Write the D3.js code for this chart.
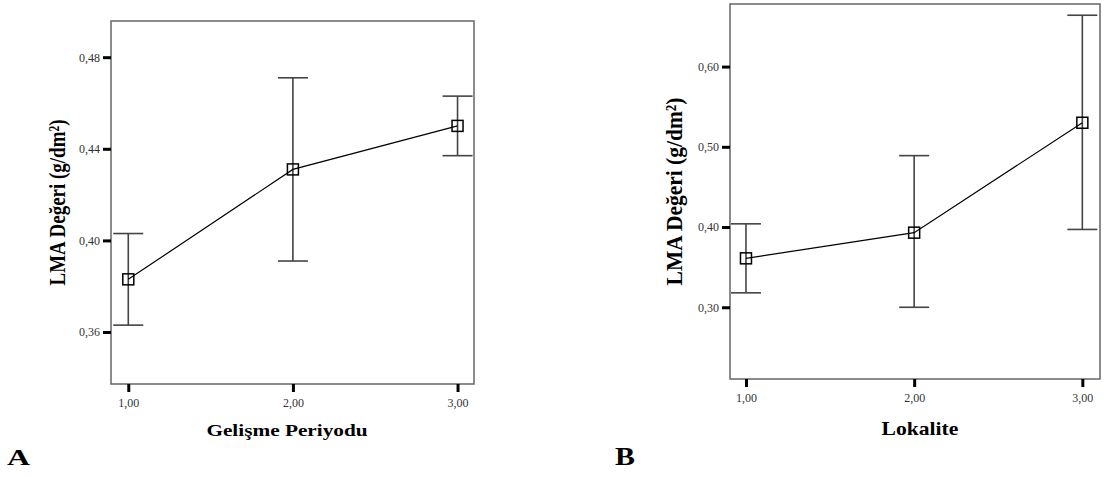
<!DOCTYPE html>
<html>
<head>
<meta charset="utf-8">
<script src="https://cdn.jsdelivr.net/npm/d3@7"></script>
<style>
  body { margin: 0; background: #fff; }
  svg text { font-family: "Liberation Serif", "DejaVu Serif", serif !important; }
</style>
</head>
<body>
<svg id="chart" width="1110" height="477"></svg>
<script>
// ==========================
// DATA
// ==========================
const groups = [1, 2, 3];
const xTicks = [1, 2, 3];

// panel A: Gelişme Periyodu
const meanA  = [0.383, 0.431, 0.450];
const lowerA = [0.363, 0.391, 0.437];
const upperA = [0.403, 0.471, 0.463];
const yTicksA = [0.36, 0.40, 0.44, 0.48];

// panel B: Lokalite
const meanB  = [0.361, 0.393, 0.530];
const lowerB = [0.318, 0.300, 0.397];
const upperB = [0.404, 0.489, 0.664];
const yTicksB = [0.30, 0.40, 0.50, 0.60];

const svg = d3.select("#chart");
const fmt = v => d3.format(".2f")(v).replace(".", ",");

function drawPanel(p) {
  const x = d3.scaleLinear().domain(p.xDomain).range([p.left, p.right]);
  const y = d3.scaleLinear().domain(p.yDomain).range([p.bottom, p.top]);
  const g = svg.append("g");

  // frame
  g.append("rect")
    .attr("x", p.left).attr("y", p.top)
    .attr("width", p.right - p.left).attr("height", p.bottom - p.top)
    .attr("fill", "none").attr("stroke", "#666").attr("stroke-width", 1.5);

  // y axis
  const yAxis = g.append("g")
    .attr("transform", `translate(${p.left},0)`)
    .call(d3.axisLeft(y).tickValues(p.yTicks).tickFormat(fmt).tickSize(8).tickPadding(3));
  yAxis.select(".domain").remove();
  yAxis.selectAll("line").attr("stroke", "#000").attr("stroke-width", 3);
  yAxis.selectAll("text").attr("font-size", 12).attr("fill", "#333");

  // x axis
  const xAxis = g.append("g")
    .attr("transform", `translate(0,${p.bottom})`)
    .call(d3.axisBottom(x).tickValues(xTicks).tickFormat(fmt).tickSize(8).tickPadding(6));
  xAxis.select(".domain").remove();
  xAxis.selectAll("line").attr("stroke", "#000").attr("stroke-width", 3);
  xAxis.selectAll("text").attr("font-size", 12).attr("fill", "#333");

  // error bars
  const capW = 15;
  const eb = g.append("g").attr("stroke", "#444").attr("stroke-width", 1.6);
  groups.forEach((d, i) => {
    eb.append("line")
      .attr("x1", x(d)).attr("x2", x(d))
      .attr("y1", y(p.upper[i])).attr("y2", y(p.lower[i]));
    [p.upper[i], p.lower[i]].forEach(v => {
      eb.append("line")
        .attr("x1", Math.max(p.left, x(d) - capW)).attr("x2", Math.min(p.right, x(d) + capW))
        .attr("y1", y(v)).attr("y2", y(v));
    });
  });

  // mean line
  g.append("path")
    .datum(groups.map((d, i) => [d, p.mean[i]]))
    .attr("fill", "none").attr("stroke", "#000").attr("stroke-width", 1.2)
    .attr("d", d3.line().x(d => x(d[0])).y(d => y(d[1])));

  // markers
  const s = 11;
  g.selectAll(".marker")
    .data(groups)
    .enter().append("rect")
    .attr("x", d => x(d) - s / 2)
    .attr("y", (d, i) => y(p.mean[i]) - s / 2)
    .attr("width", s).attr("height", s)
    .attr("fill", "none").attr("stroke", "#000").attr("stroke-width", 1.5);

  // titles (the source image is stretched sideways a bit, hence the scale)
  const cy = (p.top + p.bottom) / 2;
  g.append("text")
    .attr("transform", `translate(${p.yTitleX},${cy}) rotate(-90) scale(1,${p.yTitleStretch})`)
    .attr("text-anchor", "middle")
    .attr("font-size", p.yTitleSize).attr("font-weight", "bold")
    .text("LMA Değeri (g/dm²)");

  g.append("text")
    .attr("transform", `translate(${p.xTitleX},${p.xTitleY}) scale(${p.xTitleStretch},1)`)
    .attr("text-anchor", "middle")
    .attr("font-size", p.xTitleSize).attr("font-weight", "bold")
    .text(p.xTitle);

  g.append("text")
    .attr("transform", `translate(${p.letterX},465) scale(${p.letterStretch},1)`)
    .attr("font-size", p.letterSize).attr("font-weight", "bold")
    .text(p.letter);
}

drawPanel({
  left: 111, right: 474, top: 21, bottom: 384,
  xDomain: [0.895, 3.1], yDomain: [0.3373, 0.4958],
  yTicks: yTicksA, mean: meanA, lower: lowerA, upper: upperA,
  yTitleX: 65, yTitleSize: 19, yTitleStretch: 1.2,
  xTitleX: 287, xTitleY: 436, xTitleSize: 16, xTitleStretch: 1.33, xTitle: "Gelişme Periyodu",
  letter: "A", letterX: 7, letterSize: 24, letterStretch: 1.33
});

drawPanel({
  left: 730, right: 1100, top: 4, bottom: 379,
  xDomain: [0.905, 3.105], yDomain: [0.2106, 0.678],
  yTicks: yTicksB, mean: meanB, lower: lowerB, upper: upperB,
  yTitleX: 682, yTitleSize: 21.5, yTitleStretch: 1.05,
  xTitleX: 920, xTitleY: 435, xTitleSize: 18, xTitleStretch: 1.2, xTitle: "Lokalite",
  letter: "B", letterX: 615, letterSize: 26, letterStretch: 1.15
});
</script>
</body>
</html>
